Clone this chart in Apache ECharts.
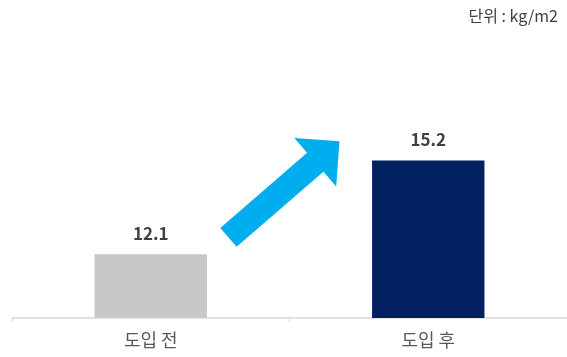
<!DOCTYPE html>
<html>
<head>
<meta charset="utf-8">
<script src="https://cdn.jsdelivr.net/npm/echarts@6/dist/echarts.min.js"></script>
<style>
  html, body { margin: 0; padding: 0; background: #ffffff; }
  #chart { width: 567px; height: 357px; }
</style>
</head>
<body>
<div id="chart"></div>
<script>
// Density before and after introduction
const categories = ['도입 전', '도입 후'];
const values = [12.1, 15.2];
const barColors = ['#c8c8c8', '#002060'];
const unitText = '단위 : kg/m2';
const yMin = 10;
const yMax = 18;

const FONT = '"Noto Sans CJK KR", "Noto Sans", sans-serif';

const chart = echarts.init(document.getElementById('chart'), null, { renderer: 'canvas' });

const unitGraphic = {
  type: 'text',
  right: 9,
  top: 8,
  style: { text: unitText, fill: '#404040', fontSize: 16, fontFamily: FONT }
};

chart.setOption({
  animation: false,
  backgroundColor: '#ffffff',
  grid: { left: 12, right: -2, top: 75.5, bottom: 39, containLabel: false },
  xAxis: {
    type: 'category',
    data: categories,
    boundaryGap: true,
    axisLine: { show: true, lineStyle: { color: '#d9d9d9', width: 1.5 } },
    axisTick: { show: true, length: 4, lineStyle: { color: '#d9d9d9' } },
    axisLabel: { color: '#595959', fontSize: 18, fontFamily: FONT, margin: 13 }
  },
  yAxis: {
    type: 'value',
    min: yMin,
    max: yMax,
    show: false,
    splitLine: { show: false }
  },
  series: [{
    type: 'bar',
    barWidth: '40.5%',
    data: values.map((v, i) => ({ value: v, itemStyle: { color: barColors[i] } })),
    label: {
      show: true,
      position: 'top',
      distance: 12,
      color: '#404040',
      fontSize: 17,
      fontWeight: 'bold',
      fontFamily: FONT,
      formatter: p => p.value.toFixed(1)
    }
  }],
  graphic: [unitGraphic]
});

// Rising arrow between the two bars, anchored to the axis scales
function arrowPoints(tail, tip, shaftHalf, headHalf, headLen) {
  const dx = tip[0] - tail[0], dy = tip[1] - tail[1];
  const L = Math.hypot(dx, dy);
  const ux = dx / L, uy = dy / L;
  const px = -uy, py = ux;
  const at = (u, v) => [tail[0] + ux * u + px * v, tail[1] + uy * u + py * v];
  const b = L - headLen;
  return [
    at(0, -shaftHalf), at(b, -shaftHalf), at(b, -headHalf), at(L, 0),
    at(b, headHalf), at(b, shaftHalf), at(0, shaftHalf)
  ];
}

const c0 = chart.convertToPixel({ gridIndex: 0 }, [0, values[0]]);
const c1 = chart.convertToPixel({ gridIndex: 0 }, [1, values[1]]);
const span = c1[0] - c0[0];
const tail = [c0[0] + span * 0.28, chart.convertToPixel({ gridIndex: 0 }, [0, 12.66])[1]];
const tip = [c0[0] + span * 0.68, chart.convertToPixel({ gridIndex: 0 }, [0, 15.83])[1]];

chart.setOption({
  graphic: [unitGraphic, {
    type: 'polygon',
    shape: { points: arrowPoints(tail, tip, 12.5, 32, 32) },
    style: { fill: '#00aeef' }
  }]
});
</script>
</body>
</html>
